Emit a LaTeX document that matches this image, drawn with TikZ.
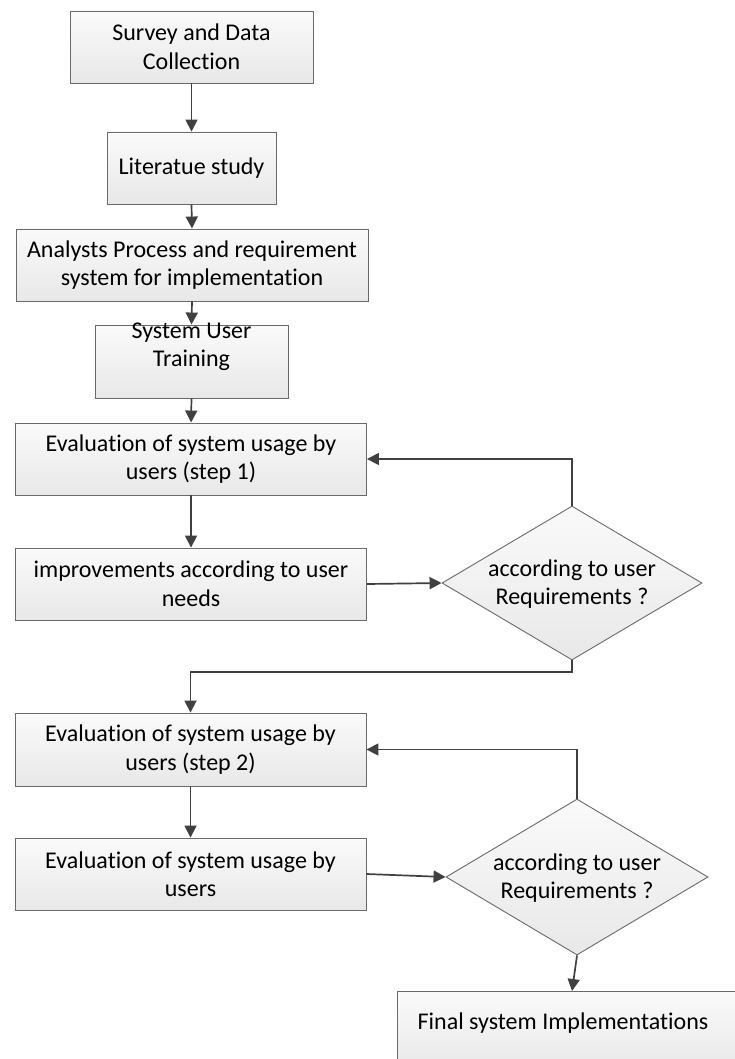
\documentclass[tikz,border=0pt]{standalone}
\usepackage{fontspec}
\setmainfont{Carlito}[Ligatures=NoCommon]
\usetikzlibrary{shapes.geometric,arrows.meta}
\definecolor{lineC}{HTML}{404040}
\definecolor{edgeC}{HTML}{6A6A6A}
\definecolor{fillT}{HTML}{FAFAFA}
\definecolor{fillB}{HTML}{E8E8E8}
\tikzset{
  fnt/.style={font=\fontsize{24}{28.5}\selectfont},
  boxS/.style={rectangle, draw=edgeC, line width=0.9pt, top color=fillT, bottom color=fillB,
    align=center, inner sep=0pt, fnt},
  diaS/.style={diamond, draw=edgeC, line width=0.9pt, top color=fillT, bottom color=fillB,
    inner sep=0pt, minimum width=260pt, minimum height=154pt},
  txtS/.style={align=center, inner sep=0pt, fnt},
  arr/.style={draw=lineC, line width=1.7pt, -{Triangle[length=12pt,width=12pt]}}
}
\begin{document}
\begin{tikzpicture}[x=1pt,y=-1pt]
\useasboundingbox (0,0) rectangle (735,1059);
\fill[white] (0,0) rectangle (735,1059);

\node[boxS, minimum width=243pt, minimum height=72pt] (b1) at (191.5,47) {Survey and Data\\Collection};
\node[boxS, minimum width=169pt, minimum height=72pt] (b2) at (191.5,168) {Literatue study};
\node[boxS, minimum width=352pt, minimum height=72pt] (b3) at (192,265) {Analysts Process and requirement\\system for implementation};
\node[boxS, minimum width=193pt, minimum height=73pt] (b4) at (191.5,361.5) {};
\node[txtS] (b4t) at (191.5,347) {System User\\Training};
\node[boxS, minimum width=351pt, minimum height=72pt] (b5) at (191,459) {Evaluation of system usage by\\users (step 1)};
\node[boxS, minimum width=351pt, minimum height=72pt] (b6) at (191,584) {improvements according to user\\needs};
\node[diaS] (d1) at (572,583) {};
\node[txtS] (d1t) at (572,584) {according to user\\Requirements ?};
\node[boxS, minimum width=351pt, minimum height=73pt] (b7) at (190.5,749.5) {Evaluation of system usage by\\users (step 2)};
\node[boxS, minimum width=351pt, minimum height=72pt] (b8) at (190.5,874) {Evaluation of system usage by\\users};
\node[diaS, minimum width=262pt, minimum height=156pt] (d2) at (577,877) {};
\node[txtS] (d2t) at (577,878) {according to user\\Requirements ?};
\node[boxS, minimum width=348pt, minimum height=80pt] (b9) at (571,1031) {};
\node[txtS] (b9t) at (563,1023) {Final system Implementations};

\coordinate (c1) at (572,672);
\coordinate (f1) at (572,991);

\draw[arr] (b1.south) -- (b2.north);
\draw[arr] (b2.south) -- (b3.north);
\draw[arr] (b3.south) -- (b4.north);
\draw[arr] (b4.south) -- (b5.north);
\draw[arr] (b5.south) -- (b6.north);
\draw[arr] (b6.east) -- (d1.west);
\draw[arr] (d1.north) |- (b5.east);
\draw[arr] (d1.south) -- (c1) -| (b7.north);
\draw[arr] (b7.south) -- (b8.north);
\draw[arr] (b8.east) -- (d2.west);
\draw[arr] (d2.north) |- (b7.east);
\draw[arr] (d2.south) -- (f1);
\end{tikzpicture}
\end{document}
